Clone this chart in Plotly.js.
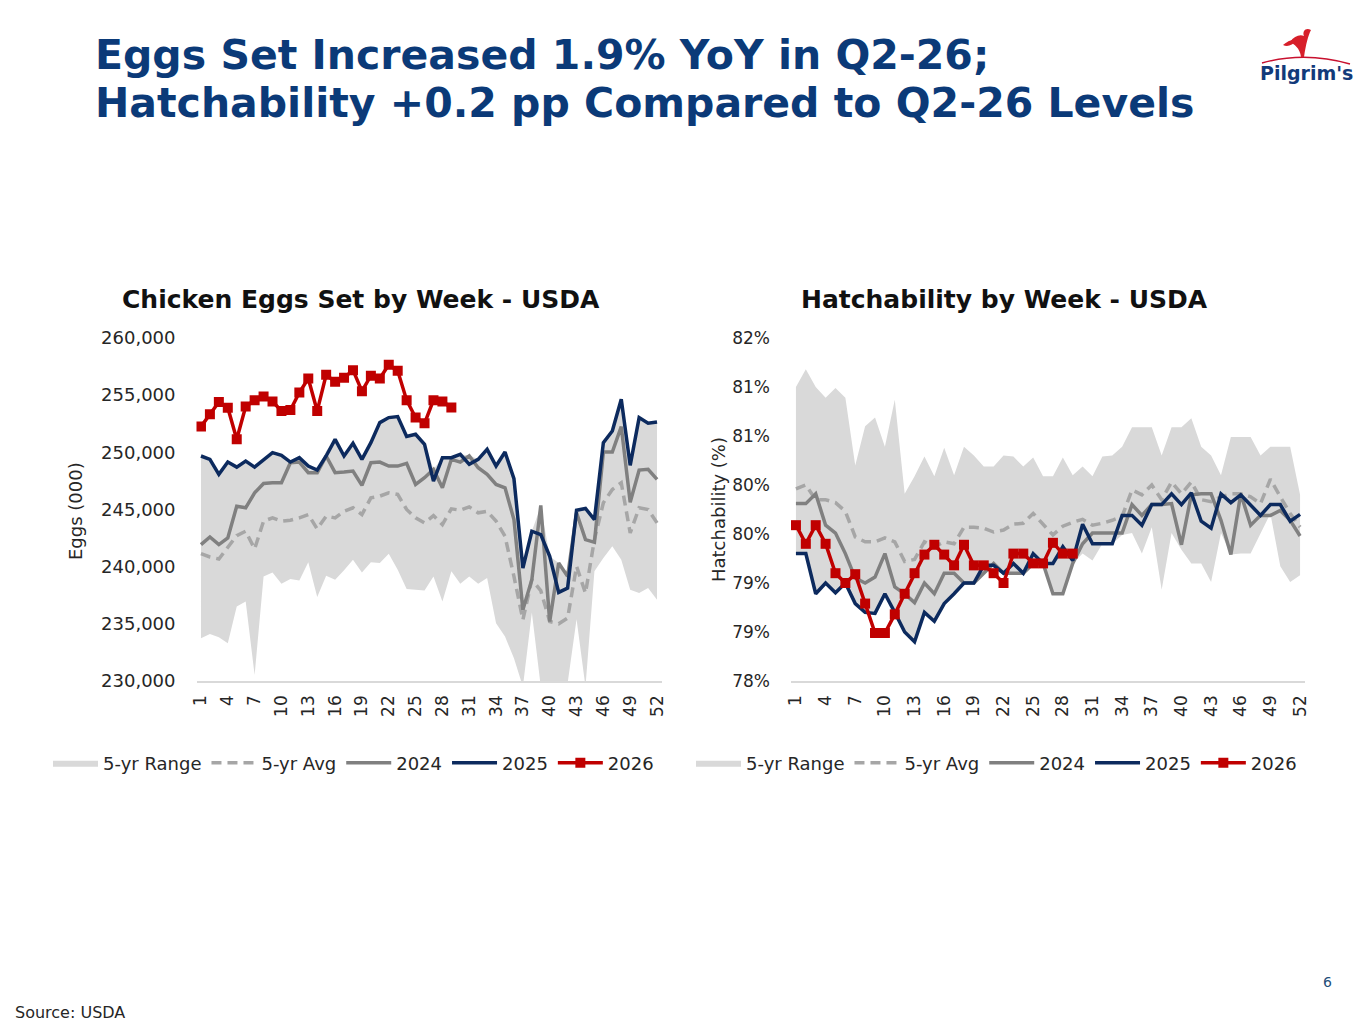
<!DOCTYPE html>
<html>
<head>
<meta charset="utf-8">
<script src="https://cdn.plot.ly/plotly-3.0.1.min.js"></script>
<style>
  html, body { margin: 0; padding: 0; background: #ffffff; }
  #chart { width: 1365px; height: 1024px; }
</style>
</head>
<body>
<div id="chart"></div>
<script>
// week numbers shared by both charts
const weeks = [1,2,3,4,5,6,7,8,9,10,11,12,13,14,15,16,17,18,19,20,21,22,23,24,25,26,
  27,28,29,30,31,32,33,34,35,36,37,38,39,40,41,42,43,44,45,46,47,48,49,50,51,52];
const weeks2026 = [1,2,3,4,5,6,7,8,9,10,11,12,13,14,15,16,17,18,19,20,21,22,23,24,25,26,27,28,29];
const weekTicks = [1,4,7,10,13,16,19,22,25,28,31,34,37,40,43,46,49,52];

// Chicken eggs set (000)
const eggsRangeLow = [233740,234120,233830,233300,236520,236960,230530,239150,239500,238510,
  238920,238800,240380,237340,239210,238860,239680,240610,239500,240380,
  240320,241140,239740,238040,237980,237920,239150,236960,239590,238510,
  239150,238510,239000,235060,233890,231990,229500,236000,229500,229800,
  229800,229800,235400,229500,239590,240760,241780,240610,237980,237690,
  238130,237100];
const eggsRangeHigh = [249680,249390,248070,249150,248710,249240,248710,249390,249970,249740,
  249150,249530,248800,248450,250110,251140,249680,250790,249450,251000,
  252600,253040,253130,251430,251580,250850,248510,249530,249530,249820,
  249740,249390,250260,248800,250030,247690,239880,243100,245290,240910,
  240320,239300,244940,245090,244120,250850,251870,254650,248860,253040,
  252540,252660];
const eggsAvg = [241140,240850,240670,241640,242720,243100,241550,243980,244270,243980,
  244060,244270,244560,243300,244420,244270,244850,245150,244560,246020,
  246170,246460,246320,245000,244270,243830,244470,243680,245060,244940,
  245230,244710,244850,243980,242660,239150,235350,238860,237900,235200,
  235000,235500,240030,237690,242370,245590,246750,247340,242950,245150,
  245000,243830];
const eggs2024 = [241930,242600,241930,242510,245290,245150,246460,247280,247340,247340,
  249090,249150,248220,248220,249680,248220,248270,248360,247110,249090,
  249150,248800,248800,249040,247190,247780,248510,246900,249390,249150,
  249680,248650,248070,247190,246900,244120,236230,238860,245350,235200,
  240320,239150,244710,242370,242130,250030,250030,252250,245640,248450,
  248510,247630];
const eggs2025 = [249680,249390,248070,249150,248710,249240,248710,249390,249970,249740,
  249150,249530,248800,248450,249680,251140,249680,250790,249390,250850,
  252600,253040,253130,251380,251580,250700,247490,249530,249530,249820,
  248950,249390,250260,248800,250030,247690,239880,243100,242810,240910,
  237750,238130,244940,245090,244120,250850,251870,254650,248860,253040,
  252540,252660];
const eggs2026 = [252250,253330,254400,253900,251140,254000,254560,254880,254450,253620,
  253700,255230,256460,253620,256780,256170,256520,257190,255350,256700,
  256460,257660,257130,254560,253040,252540,254560,254450,253920];

// Hatchability (%)
const hatchRangeLow = [79.30,79.30,78.89,79.00,78.90,79.00,78.79,78.70,78.69,78.89,
  78.70,78.50,78.40,78.70,78.61,78.79,78.89,79.00,79.00,79.10,
  79.18,79.08,79.10,79.08,79.20,79.18,78.89,78.89,79.20,79.30,
  79.23,79.40,79.40,79.49,79.51,79.30,79.57,78.93,79.51,79.34,
  79.20,79.20,79.01,79.51,79.29,79.30,79.30,79.51,79.71,79.17,
  79.01,79.08];
const hatchRangeHigh = [81.00,81.18,81.00,80.89,80.99,80.89,80.20,80.60,80.69,80.39,
  80.87,79.91,80.09,80.29,80.09,80.38,80.10,80.39,80.30,80.19,
  80.19,80.30,80.29,80.19,80.28,80.09,80.09,80.28,80.10,80.19,
  80.09,80.29,80.30,80.39,80.59,80.59,80.59,80.30,80.59,80.59,
  80.68,80.39,80.30,80.10,80.49,80.49,80.49,80.30,80.39,80.39,
  80.39,79.90];
const hatchAvg = [79.96,80.00,79.85,79.85,79.82,79.73,79.47,79.42,79.42,79.46,
  79.42,79.22,79.24,79.42,79.37,79.42,79.40,79.57,79.57,79.56,
  79.52,79.54,79.60,79.61,79.71,79.60,79.49,79.58,79.62,79.65,
  79.59,79.61,79.64,79.68,79.95,79.90,80.00,79.85,80.03,79.91,
  80.03,79.85,79.83,79.88,79.91,79.91,79.88,79.81,80.06,79.88,
  79.71,79.57];
const hatch2024 = [79.81,79.81,79.91,79.59,79.51,79.30,79.05,79.00,79.06,79.30,
  78.96,78.89,78.80,79.00,78.89,79.10,79.10,79.00,79.00,79.10,
  79.20,79.10,79.10,79.10,79.20,79.20,78.89,78.89,79.20,79.40,
  79.51,79.51,79.51,79.51,79.80,79.69,79.80,79.80,79.81,79.39,
  79.90,79.91,79.91,79.64,79.29,79.91,79.59,79.69,79.69,79.74,
  79.64,79.48];
const hatch2025 = [79.30,79.30,78.89,79.00,78.90,79.00,78.79,78.70,78.69,78.89,
  78.70,78.50,78.40,78.70,78.61,78.79,78.89,79.00,79.00,79.18,
  79.18,79.10,79.20,79.10,79.30,79.20,79.20,79.37,79.23,79.60,
  79.40,79.40,79.40,79.69,79.69,79.59,79.80,79.80,79.91,79.80,
  79.92,79.63,79.56,79.91,79.82,79.90,79.80,79.69,79.80,79.80,
  79.63,79.70];
const hatch2026 = [79.59,79.40,79.59,79.40,79.10,79.00,79.09,78.79,78.49,78.49,
  78.68,78.89,79.10,79.29,79.39,79.29,79.18,79.39,79.18,79.18,
  79.10,79.00,79.30,79.30,79.20,79.20,79.41,79.30,79.30];
const hatchTickVals = [78,78.5,79,79.5,80,80.5,81,81.5];
const hatchTickText = ['78%','79%','79%','80%','80%','81%','81%','82%'];

const FONT = 'DejaVu Sans, Liberation Sans, sans-serif';
const TXT = '#262626';
const NAVY = '#0b3a78';
const W = 1365, H = 1024;
const px = (x) => x / W;
const py = (y) => 1 - y / H;

function series(xa, ya, lg, low, high, avg, y24, y25, y26) {
  const base = {xaxis: xa, yaxis: ya, legend: lg, type: 'scatter', hoverinfo: 'skip'};
  return [
    Object.assign({}, base, {x: weeks, y: low, mode: 'lines', line: {width: 0, color: '#d9d9d9'},
      showlegend: false}),
    Object.assign({}, base, {x: weeks, y: high, mode: 'lines', fill: 'tonexty',
      fillcolor: '#d9d9d9', line: {width: 0, color: '#d9d9d9'}, name: '5-yr Range'}),
    Object.assign({}, base, {x: weeks, y: avg, mode: 'lines', name: '5-yr Avg',
      line: {color: '#a6a6a6', width: 3.5, dash: '10px,6px'}}),
    Object.assign({}, base, {x: weeks, y: y24, mode: 'lines', name: '2024',
      line: {color: '#808080', width: 3.5}}),
    Object.assign({}, base, {x: weeks, y: y25, mode: 'lines', name: '2025',
      line: {color: '#0c2a5e', width: 3.5}}),
    Object.assign({}, base, {x: weeks2026, y: y26, mode: 'lines+markers', name: '2026',
      line: {color: '#c00000', width: 3.5},
      marker: {symbol: 'square', size: 10, color: '#c00000'}})
  ];
}

const data = [].concat(
  series('x', 'y', 'legend', eggsRangeLow, eggsRangeHigh, eggsAvg, eggs2024, eggs2025, eggs2026),
  series('x2', 'y2', 'legend2', hatchRangeLow, hatchRangeHigh, hatchAvg, hatch2024, hatch2025, hatch2026)
);

const xCommon = {
  range: [0.5, 52.5], tickmode: 'array', tickvals: weekTicks, tickangle: -90,
  showgrid: false, zeroline: false, showline: true, linecolor: '#d9d9d9', linewidth: 1.5,
  ticks: '', tickfont: {family: FONT, size: 17, color: TXT}, ticklabelstandoff: 6
};
const yCommon = {
  showgrid: false, zeroline: false, showline: false, ticks: '', ticklabelstandoff: 20
};

const legendCommon = {
  orientation: 'h', xanchor: 'left', yanchor: 'middle', y: py(763), traceorder: 'normal',
  font: {family: FONT, size: 18, color: TXT}, bgcolor: 'rgba(0,0,0,0)',
  itemwidth: 45, tracegroupgap: 0
};

const logoShapes = [
  {type: 'path', xref: 'paper', yref: 'paper', line: {color: '#c8102e', width: 1.5},
   path: 'M ' + px(1262) + ',' + py(63) + ' Q ' + px(1305) + ',' + py(51) + ' ' + px(1350) + ',' + py(64)},
  {type: 'path', xref: 'paper', yref: 'paper', line: {width: 0}, fillcolor: '#d71f2a',
   path: 'M ' + px(1301) + ',' + py(57) + ' C ' + px(1300) + ',' + py(48) + ' ' + px(1294) + ',' + py(44) + ' ' + px(1290) + ',' + py(42) +
     ' C ' + px(1294) + ',' + py(36) + ' ' + px(1300) + ',' + py(34) + ' ' + px(1304) + ',' + py(36) +
     ' C ' + px(1302) + ',' + py(31) + ' ' + px(1306) + ',' + py(27) + ' ' + px(1311) + ',' + py(30) +
     ' C ' + px(1308) + ',' + py(36) + ' ' + px(1306) + ',' + py(44) + ' ' + px(1304) + ',' + py(57) + ' Z'},
  {type: 'path', xref: 'paper', yref: 'paper', line: {width: 0}, fillcolor: '#d71f2a',
   path: 'M ' + px(1297) + ',' + py(40) + ' C ' + px(1292) + ',' + py(46) + ' ' + px(1287) + ',' + py(47) + ' ' + px(1283) + ',' + py(45) +
     ' C ' + px(1287) + ',' + py(42) + ' ' + px(1291) + ',' + py(39) + ' ' + px(1297) + ',' + py(40) + ' Z'}
];

const layout = {
  width: W, height: H,
  margin: {l: 0, r: 0, t: 0, b: 0},
  paper_bgcolor: '#ffffff', plot_bgcolor: '#ffffff',
  font: {family: FONT, color: TXT},
  xaxis: Object.assign({}, xCommon, {domain: [px(196.5), px(661.5)], anchor: 'y'}),
  yaxis: Object.assign({}, yCommon, {domain: [py(681), py(338)], anchor: 'x',
    range: [230000, 260000], dtick: 5000, tickformat: ',d',
    tickfont: {family: FONT, size: 18, color: TXT}}),
  xaxis2: Object.assign({}, xCommon, {domain: [px(791), px(1305)], anchor: 'y2'}),
  yaxis2: Object.assign({}, yCommon, {domain: [py(681), py(338)], anchor: 'x2',
    range: [78, 81.5], tickmode: 'array', tickvals: hatchTickVals, ticktext: hatchTickText,
    tickfont: {family: FONT, size: 17, color: TXT}}),
  legend: Object.assign({}, legendCommon, {x: px(48)}),
  legend2: Object.assign({}, legendCommon, {x: px(691)}),
  shapes: logoShapes,
  annotations: [
    {xref: 'paper', yref: 'paper', x: px(93), y: py(55), xanchor: 'left', yanchor: 'middle',
     align: 'left', height: 46, showarrow: false,
     text: '<b>Eggs Set Increased 1.9% YoY in Q2-26;</b>',
     font: {family: FONT, size: 41, color: NAVY}},
    {xref: 'paper', yref: 'paper', x: px(93), y: py(103), xanchor: 'left', yanchor: 'middle',
     align: 'left', height: 46, showarrow: false,
     text: '<b>Hatchability +0.2 pp Compared to Q2-26 Levels</b>',
     font: {family: FONT, size: 41, color: NAVY}},
    {xref: 'paper', yref: 'paper', x: px(361), y: py(299), xanchor: 'center', yanchor: 'middle',
     showarrow: false, text: '<b>Chicken Eggs Set by Week - USDA</b>',
     font: {family: FONT, size: 25, color: '#111111'}},
    {xref: 'paper', yref: 'paper', x: px(1004), y: py(299), xanchor: 'center', yanchor: 'middle',
     showarrow: false, text: '<b>Hatchability by Week - USDA</b>',
     font: {family: FONT, size: 25, color: '#111111'}},
    {xref: 'paper', yref: 'paper', x: px(75), y: py(511), xanchor: 'center', yanchor: 'middle',
     showarrow: false, textangle: -90, text: 'Eggs (000)',
     font: {family: FONT, size: 18, color: TXT}},
    {xref: 'paper', yref: 'paper', x: px(718), y: py(510), xanchor: 'center', yanchor: 'middle',
     showarrow: false, textangle: -90, text: 'Hatchability (%)',
     font: {family: FONT, size: 18, color: TXT}},
    {xref: 'paper', yref: 'paper', x: px(1306), y: py(73), xanchor: 'center', yanchor: 'middle',
     showarrow: false, text: '<b>Pilgrim\'s</b>',
     font: {family: FONT, size: 19, color: '#123a7a'}},
    {xref: 'paper', yref: 'paper', x: px(1327), y: py(982), xanchor: 'center', yanchor: 'middle',
     showarrow: false, text: '6', font: {family: FONT, size: 14, color: '#1f4e79'}},
    {xref: 'paper', yref: 'paper', x: px(13), y: py(1012), xanchor: 'left', yanchor: 'middle',
     showarrow: false, text: 'Source: USDA', font: {family: FONT, size: 16, color: TXT}}
  ]
};

Plotly.newPlot('chart', data, layout, {staticPlot: true, displayModeBar: false});
</script>
</body>
</html>
